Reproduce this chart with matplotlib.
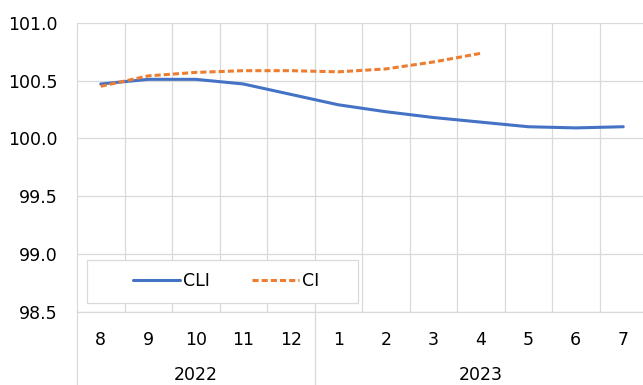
import matplotlib.pyplot as plt
from matplotlib.lines import Line2D
from matplotlib.patches import Rectangle

months = ['8', '9', '10', '11', '12', '1', '2', '3', '4', '5', '6', '7']
years = ['2022', '2023']
year_len = [5, 7]
cli = [100.47, 100.51, 100.51, 100.47, 100.38, 100.29, 100.23, 100.18, 100.14, 100.10, 100.09, 100.10]
ci = [100.45, 100.54, 100.57, 100.585, 100.585, 100.575, 100.60, 100.66, 100.735]

W, H = 643, 385
fig = plt.figure(figsize=(W / 100, H / 100), dpi=100)
left, right, top, bottom = 77, 647, 22.7, 311.7
ax = fig.add_axes([left / W, 1 - bottom / H, (right - left) / W, (bottom - top) / H])

grid_c = '#D9D9D9'
glw = 0.9
fs = 12.5

x = list(range(len(months)))
ax.plot(x, cli, color='#4472C4', lw=2.2, solid_capstyle='round', label='CLI')
ax.plot(x[:len(ci)], ci, color='#ED7D31', lw=2.2, linestyle=(0, (2.0, 1.0)), label='CI')

ax.set_xlim(-0.5, len(months) - 0.5)
ax.set_ylim(98.5, 101.0)
ax.set_yticks([98.5, 99.0, 99.5, 100.0, 100.5, 101.0])
ax.set_yticklabels(['%.1f' % v for v in ax.get_yticks()])
ax.set_xticks(x)
ax.set_xticklabels(months)
ax.set_xticks([i + 0.5 for i in x[:-1]], minor=True)

ax.grid(True, axis='y', color=grid_c, lw=glw)
ax.grid(True, axis='x', which='minor', color=grid_c, lw=glw)
ax.tick_params(axis='both', which='both', length=0, labelsize=fs)
ax.tick_params(axis='y', pad=14)
ax.tick_params(axis='x', pad=14)
for s in ['top', 'right']:
    ax.spines[s].set_visible(False)
for s in ['left', 'bottom']:
    ax.spines[s].set_color(grid_c)
    ax.spines[s].set_linewidth(glw)
ax.set_axisbelow(True)

# category axis separators and year labels
hbelow = (H - bottom) / (bottom - top)
trans = ax.get_xaxis_transform()
start = -0.5
for yr, n in zip(years, year_len):
    ax.add_line(Line2D([start, start], [0, -hbelow], transform=trans, color=grid_c, lw=glw, clip_on=False))
    ax.text(start + n / 2, -(375 - bottom) / (bottom - top), yr, transform=trans,
            ha='center', va='center', fontsize=fs)
    start += n
ax.add_line(Line2D([start, start], [0, -hbelow], transform=trans, color=grid_c, lw=glw, clip_on=False))

# legend box
pw, ph = right - left, bottom - top
ax.add_patch(Rectangle(((87 - left) / pw, (bottom - 303) / ph), (358 - 87) / pw, 43 / ph,
                       transform=ax.transAxes, facecolor='white', edgecolor=grid_c, lw=glw, zorder=5))
leg = ax.legend(loc='center', bbox_to_anchor=((226 - left) / pw, (bottom - 281.5) / ph),
                ncol=2, frameon=False, fontsize=fs, handlelength=2.7, handletextpad=0.2,
                columnspacing=2.4)
leg.set_zorder(6)

fig.savefig('out.png', dpi=100)
